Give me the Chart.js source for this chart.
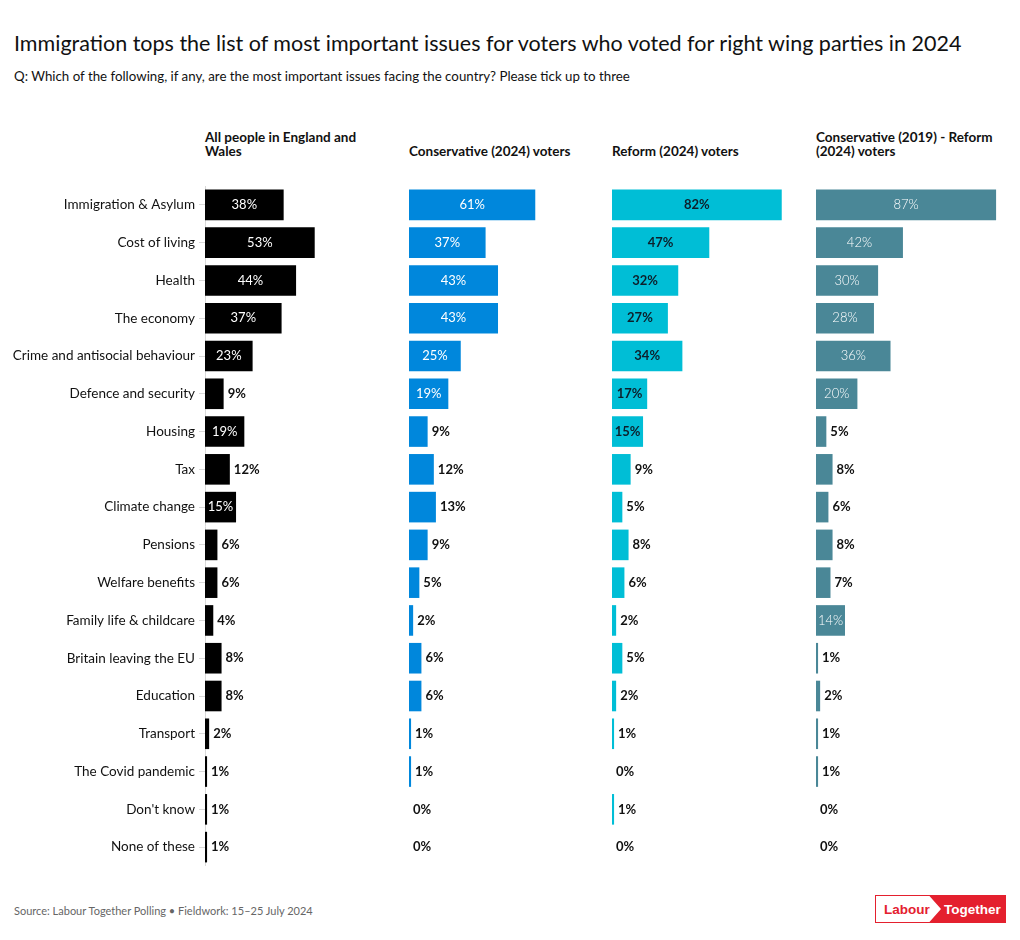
<!DOCTYPE html>
<html>
<head>
<meta charset="utf-8">
<script src="https://cdn.jsdelivr.net/npm/chart.js@4.4.1/dist/chart.umd.min.js"></script>
<style>
  html, body { margin: 0; padding: 0; background: #fff; }
  body { width: 1020px; height: 940px; position: relative; overflow: hidden; font-family: Lato, "Open Sans", sans-serif; color: #111; }
  .title { position: absolute; left: 14px; top: 30px; font-size: 21.5px; font-weight: 400; }
  .subtitle { position: absolute; left: 14px; top: 68px; font-size: 13.3px; }
  .head { position: absolute; top: 120px; height: 38px; width: 195px; display: flex; align-items: flex-end; font-size: 13.5px; font-weight: 700; line-height: 14px; }
  .panel { position: absolute; top: 186px; height: 680px; }
  .source { position: absolute; left: 14px; top: 904px; font-size: 11px; color: #666; }
  .logo { position: absolute; left: 875px; top: 895px; }
</style>
</head>
<body>
<div class="title">Immigration tops the list of most important issues for voters who voted for right wing parties in 2024</div>
<div class="subtitle">Q: Which of the following, if any, are the most important issues facing the country? Please tick up to three</div>

<div class="head" style="left:205px;width:170px">All people in England and Wales</div>
<div class="head" style="left:409px">Conservative (2024) voters</div>
<div class="head" style="left:612px">Reform (2024) voters</div>
<div class="head" style="left:816px;width:190px">Conservative (2019) - Reform (2024) voters</div>

<div class="panel" style="left:0px;width:412px"><canvas id="c1" width="412" height="680"></canvas></div>
<div class="panel" style="left:409px;width:207px"><canvas id="c2" width="207" height="680"></canvas></div>
<div class="panel" style="left:612px;width:207px"><canvas id="c3" width="207" height="680"></canvas></div>
<div class="panel" style="left:816px;width:207px"><canvas id="c4" width="207" height="680"></canvas></div>

<div class="source">Source: Labour Together Polling • Fieldwork: 15–25 July 2024</div>
<svg class="logo" width="132" height="29" viewBox="0 0 132 29">
  <rect x="0.5" y="0.5" width="130" height="27" fill="#fff" stroke="#e4202e" stroke-width="1"/>
  <polygon points="54,0.5 130.5,0.5 130.5,27.5 54,27.5 66,14" fill="#e4202e"/>
  <text x="9" y="19" font-family="Liberation Sans, Arial, sans-serif" font-size="13.5" font-weight="700" fill="#e4202e">Labour</text>
  <text x="69" y="19" font-family="Liberation Sans, Arial, sans-serif" font-size="13.5" font-weight="700" fill="#fff">Together</text>
</svg>

<script>
const categories = ["Immigration & Asylum","Cost of living","Health","The economy","Crime and antisocial behaviour","Defence and security","Housing","Tax","Climate change","Pensions","Welfare benefits","Family life & childcare","Britain leaving the EU","Education","Transport","The Covid pandemic","Don't know","None of these"];
const allPeople = [38,53,44,37,23,9,19,12,15,6,6,4,8,8,2,1,1,1];
const con2024   = [61,37,43,43,25,19,9,12,13,9,5,2,6,6,1,1,0,0];
const ref2024   = [82,47,32,27,34,17,15,9,5,8,6,2,5,2,1,0,1,0];
const conRef    = [87,42,30,28,36,20,5,8,6,8,7,14,1,2,1,1,0,0];

const FONT = "Lato, 'Open Sans', sans-serif";

const labelPlugin = {
  id: 'valueLabels',
  afterDatasetsDraw(chart, args, opts) {
    const ctx = chart.ctx;
    const meta = chart.getDatasetMeta(0);
    const data = chart.data.datasets[0].data;
    ctx.save();
    ctx.textBaseline = 'middle';
    meta.data.forEach((bar, i) => {
      const v = data[i];
      const txt = v + '%';
      if (v >= 14) {
        ctx.font = opts.inWeight + ' 13px ' + FONT;
        ctx.fillStyle = opts.inColor;
        ctx.textAlign = 'center';
        ctx.fillText(txt, (bar.x + bar.base) / 2, bar.y);
      } else {
        ctx.font = '700 13px ' + FONT;
        ctx.fillStyle = '#111';
        ctx.textAlign = 'left';
        ctx.fillText(txt, Math.max(bar.x, bar.base) + 4, bar.y);
      }
    });
    ctx.restore();
  }
};

function makeChart(id, values, color, inColor, inWeight, showLabels) {
  const yScale = {
    display: true,
    grid: { display: showLabels, drawOnChartArea: false, offset: false, color: '#d9d9d9', tickLength: 6 },
    border: { display: showLabels, color: '#d9d9d9' },
    ticks: { display: showLabels, color: '#111', padding: 4, font: { family: FONT, size: 13.5 } },
    afterFit: s => { s.width = showLabels ? 205 : 0; s.paddingTop = 0; s.paddingBottom = 0; }
  };
  return new Chart(document.getElementById(id), {
    type: 'bar',
    data: { labels: categories, datasets: [{ data: values, backgroundColor: color, borderWidth: 0, barPercentage: 0.81, categoryPercentage: 1 }] },
    options: {
      indexAxis: 'y',
      responsive: false,
      animation: false,
      layout: { padding: 0 },
      plugins: { legend: { display: false }, tooltip: { enabled: false }, valueLabels: { inColor, inWeight } },
      scales: {
        x: { display: false, min: 0, max: 100 },
        y: yScale
      }
    },
    plugins: [labelPlugin]
  });
}

makeChart('c1', allPeople, '#000000', '#ffffff', '400', true);
makeChart('c2', con2024, '#0087dc', '#ffffff', '400', false);
makeChart('c3', ref2024, '#00bed6', '#0d1f2b', '700', false);
makeChart('c4', conRef, '#4a8797', '#ffffff', '300', false);
</script>
</body>
</html>
